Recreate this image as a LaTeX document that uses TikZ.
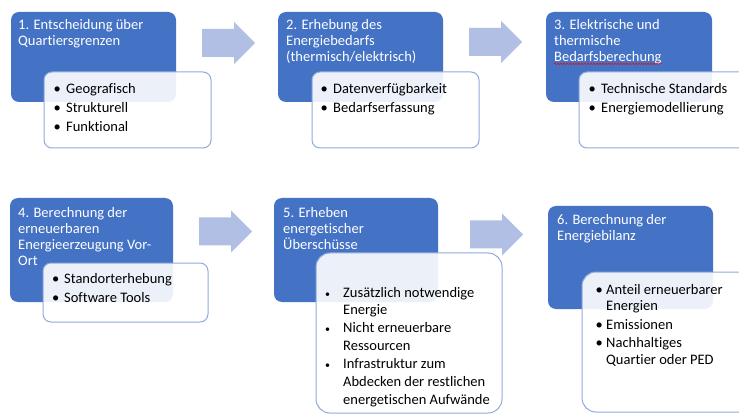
\documentclass[tikz,border=0pt]{standalone}
\usepackage{fontspec}
\setmainfont{Carlito}[Ligatures=NoCommon]
\usetikzlibrary{decorations.pathmorphing}
\definecolor{officeblue}{HTML}{4472C4}
\definecolor{arrowblue}{HTML}{B0BFE3}
\definecolor{frameblue}{HTML}{8FAADC}
\tikzset{
  bluebox/.style={fill=officeblue, rounded corners=8pt},
  whitebox/.style={fill=white, fill opacity=0.9, draw=frameblue, line width=1pt, rounded corners=8pt},
  bigwhitebox/.style={whitebox, rounded corners=14pt},
  ttl/.style={anchor=mid west, inner sep=0pt, text=white, font=\fontsize{14.5}{16}\selectfont},
  itm/.style={anchor=mid west, inner sep=0pt, text=black, font=\fontsize{14.5}{16}\selectfont},
  dot/.style={anchor=mid west, inner sep=0pt, text=black, font=\fontsize{14.5}{16}\selectfont},
  smalldot/.style={anchor=mid west, inner sep=0pt, text=black, font=\fontsize{10}{16}\selectfont},
  blockarr/.pic={\fill[arrowblue] (0,-14) -- (32,-14) -- (32,-21) -- (53,0) -- (32,21) -- (32,14) -- (0,14) -- cycle;},
  spellmark/.style={draw=red, line width=0.5pt, decorate, decoration={snake, segment length=3pt, amplitude=0.7pt}}
}
\begin{document}
\begin{tikzpicture}[x=1pt, y=-1pt]
\clip (0,0) rectangle (739,414);
\fill[white] (0,0) rectangle (739,414);

% arrows
\pic at (202,43) {blockarr};
\pic at (469,42) {blockarr};
\pic at (199,231.5) {blockarr};
\pic at (470,234.5) {blockarr};

% ---------- Step 1 ----------
\path[bluebox] (11,12) rectangle (176,102);
\node[ttl] (t1a) at (18,27) {1. Entscheidung über};
\node[ttl] (t1b) at (18,43) {Quartiersgrenzen};
\draw[whitebox] (44,72) rectangle (211,148);
\node[dot] (d1a) at (53.5,91) {•};
\node[itm] (i1a) at (66,91) {Geografisch};
\node[dot] (d1b) at (53.5,110) {•};
\node[itm] (i1b) at (66,110) {Strukturell};
\node[dot] (d1c) at (53.5,129) {•};
\node[itm] (i1c) at (66,129) {Funktional};

% ---------- Step 2 ----------
\path[bluebox] (278,12) rectangle (443,102);
\node[ttl] (t2a) at (286,27) {2. Erhebung des};
\node[ttl] (t2b) at (286,43) {Energiebedarfs};
\node[ttl] (t2c) at (286,59) {(thermisch/elektrisch)};
\draw[whitebox] (312,72) rectangle (479,148);
\node[dot] (d2a) at (320.5,91) {•};
\node[itm] (i2a) at (333,91) {Datenverfügbarkeit};
\node[dot] (d2b) at (320.5,110) {•};
\node[itm] (i2b) at (333,110) {Bedarfserfassung};

% ---------- Step 3 ----------
\path[bluebox] (546,12) rectangle (712,102);
\node[ttl] (t3a) at (554,27) {3. Elektrische und};
\node[ttl] (t3b) at (554,43) {thermische};
\node[ttl] (t3c) at (554,59) {Bedarfsberechung};
\draw[spellmark] ([yshift=-2.5pt]t3c.base west) -- ([yshift=-2.5pt]t3c.base east);
\draw[whitebox] (579,72) rectangle (760,148);
\node[dot] (d3a) at (588.5,91) {•};
\node[itm] (i3a) at (601,91) {Technische Standards};
\node[dot] (d3b) at (588.5,110) {•};
\node[itm] (i3b) at (601,110) {Energiemodellierung};

% ---------- Step 4 ----------
\path[bluebox] (10,198) rectangle (173,302);
\node[ttl] (t4a) at (18,215) {4. Berechnung der};
\node[ttl] (t4b) at (18,231) {erneuerbaren};
\node[ttl] (t4c) at (18,247) {Energieerzeugung Vor-};
\node[ttl] (t4d) at (18,263) {Ort};
\draw[whitebox] (43,263) rectangle (208,322);
\node[dot] (d4a) at (52,281) {•};
\node[itm] (i4a) at (64,281) {Standorterhebung};
\node[dot] (d4b) at (52,300) {•};
\node[itm] (i4b) at (64,300) {Software Tools};

% ---------- Step 5 ----------
\path[bluebox] (274,198) rectangle (438,302);
\node[ttl] (t5a) at (283,215) {5. Erheben};
\node[ttl] (t5b) at (283,231) {energetischer};
\node[ttl] (t5c) at (283,247) {Überschüsse};
\draw[bigwhitebox] (316,253) rectangle (502,413);
\node[smalldot] (d5a) at (325,295) {•};
\node[itm] (i5a) at (343,295) {Zusätzlich notwendige};
\node[itm] (i5b) at (343,312) {Energie};
\node[smalldot] (d5b) at (325,330) {•};
\node[itm] (i5c) at (343,330) {Nicht erneuerbare};
\node[itm] (i5d) at (343,348) {Ressourcen};
\node[smalldot] (d5c) at (325,366) {•};
\node[itm] (i5e) at (343,366) {Infrastruktur zum};
\node[itm] (i5f) at (343,384) {Abdecken der restlichen};
\node[itm] (i5g) at (343,402) {energetischen Aufwände};

% ---------- Step 6 ----------
\path[bluebox] (548,206) rectangle (713,309);
\node[ttl] (t6a) at (557,222) {6. Berechnung der};
\node[ttl] (t6b) at (557,238) {Energiebilanz};
\draw[bigwhitebox] (582,272) rectangle (760,412);
\node[dot] (d6a) at (595.5,292) {•};
\node[itm] (i6a) at (606,292) {Anteil erneuerbarer};
\node[itm] (i6b) at (606,308) {Energien};
\node[dot] (d6b) at (595.5,327) {•};
\node[itm] (i6c) at (606,327) {Emissionen};
\node[dot] (d6c) at (595.5,345) {•};
\node[itm] (i6d) at (606,345) {Nachhaltiges};
\node[itm] (i6e) at (606,362) {Quartier oder PED};
\end{tikzpicture}
\end{document}
